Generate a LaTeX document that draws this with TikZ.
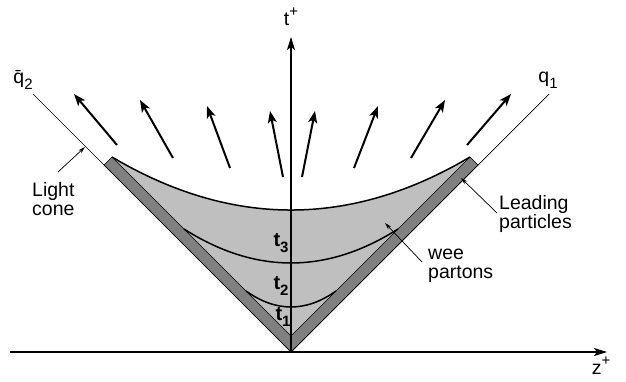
\documentclass[tikz,border=0pt]{standalone}
\usepackage{fontspec}
\setmainfont{Liberation Sans}
\usetikzlibrary{arrows.meta}
\definecolor{lightg}{gray}{0.75}
\definecolor{darkg}{gray}{0.5}
\newcommand\mysub[1]{\raisebox{-0.3em}{\fontsize{15}{15}\selectfont #1}}
\newcommand\mysup[1]{\raisebox{0.45em}{\fontsize{15}{15}\selectfont #1}}
\begin{document}
\begin{tikzpicture}[x=1pt,y=-1pt,
  axis/.style={line width=1.1pt,-{Stealth[length=13pt,width=8pt,inset=3pt]}},
  emit/.style={line width=2pt,-{Stealth[length=12pt,width=9pt,inset=3pt]}},
  pointer/.style={line width=0.7pt,-{Stealth[length=7pt,width=4pt]}},
  cone/.style={line width=0.7pt},
  lbl/.style={font=\fontsize{19.5}{19}\selectfont,inner sep=0pt,align=left},
  tl/.style={font=\fontsize{20}{20}\selectfont\bfseries,inner sep=0pt},
  curve/.style={line width=1.5pt}]
\useasboundingbox (0,0) rectangle (626,381);
% key points
\coordinate (O) at (291,352);
\coordinate (I) at (291,336);
\coordinate (Li) at (112,157);
\coordinate (Lo) at (104,165);
\coordinate (Ri) at (470,157);
\coordinate (Ro) at (478,165);
% wee parton region
\fill[lightg] (Li) .. controls (231.3,227.7) and (350.7,227.7) .. (Ri) -- (I) -- cycle;
% leading particle band
\filldraw[fill=darkg,draw=black,line width=0.6pt] (Li) -- (I) -- (Ri) -- (Ro) -- (O) -- (Lo) -- cycle;
% time slices
\draw[curve] (Li) .. controls (231.3,227.7) and (350.7,227.7) .. (Ri);
\draw[curve] (184,229) .. controls (255.3,274.3) and (326.7,274.3) .. (398,229);
\draw[curve] (246,291) .. controls (276,312.3) and (306,312.3) .. (336,291);
% light cone
\coordinate (qbarend) at (33,94);
\coordinate (qend) at (549,94);
\draw[cone] (qbarend) -- (O) -- (qend);
% axes
\coordinate (ttop) at (291,37);
\coordinate (zleft) at (10,352);
\coordinate (zright) at (607,352);
\draw[axis] (O) -- (ttop);
\draw[axis] (zleft) -- (zright);
% emitted particles
\foreach \ax/\ay/\bx/\by in {117/145/74/94, 173/158/140/100, 230/168/207/106, 283/177/270/111,
  302/177/315/111, 354/168/378/106, 411/158/445/100, 467/145/511/94}
  \draw[emit] (\ax,\ay) -- (\bx,\by);
% labels
\node[lbl] (tplus) at (291,17) {t\mysup{+}};
\node[lbl] (zplus) at (601,366) {z\mysup{+}};
\node[lbl] (qbar) at (23,80) {\=q\mysub{2}};
\node[lbl] (q1) at (548,80) {q\mysub{1}};
\node[tl] (t3) at (281,243) {t\mysub{3}};
\node[tl] (t2) at (281,286) {t\mysub{2}};
\node[tl] (t1) at (283,317) {t\mysub{1}};
\node[lbl,anchor=west] (light) at (32,199) {Light\\cone};
\node[lbl,anchor=west] (lead) at (499,214) {Leading\\particles};
\node[lbl,anchor=west] (wee) at (428,266) {wee\\partons};
% pointers
\coordinate (lcp) at (85,147);
\coordinate (lpp) at (461,178);
\coordinate (wpp) at (385,223);
\draw[pointer] (58,172) -- (lcp);
\draw[pointer] (497,213) -- (lpp);
\draw[pointer] (422,262) -- (wpp);
\end{tikzpicture}
\end{document}
